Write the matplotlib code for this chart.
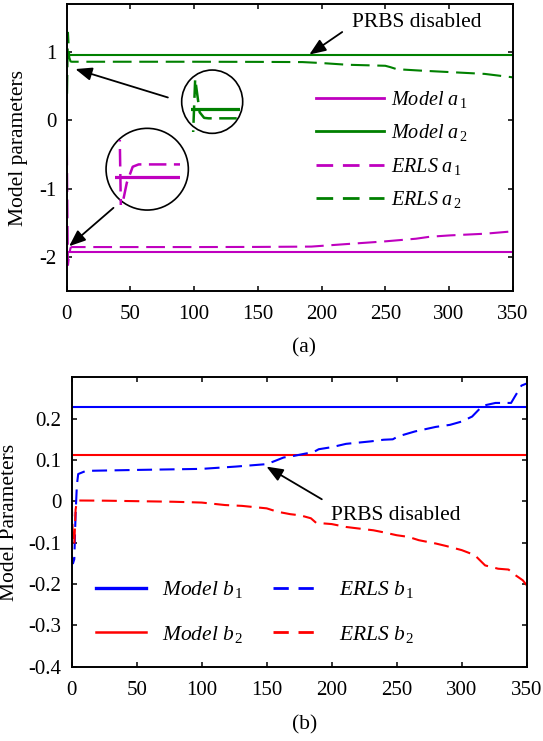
import matplotlib
matplotlib.use('Agg')
import matplotlib.pyplot as plt
from matplotlib.patches import Ellipse
from matplotlib.lines import Line2D

plt.rcParams.update({
    'font.family': ['Liberation Serif', 'DejaVu Serif'],
    'mathtext.fontset': 'custom',
    'mathtext.rm': 'Liberation Serif',
    'mathtext.it': 'Liberation Serif:italic',
    'mathtext.bf': 'Liberation Serif:bold',
    'axes.unicode_minus': False,
})

# ---------------- data (a) ----------------
x_span = [0, 350]
model_a1 = -1.93
model_a2 = 0.955

erls_a1_x = [0, 1, 2, 3, 4, 10, 50, 100, 150, 192, 219, 249, 274, 285, 301, 328, 350]
erls_a1_y = [0, -2.12, -1.96, -1.87, -1.857, -1.857, -1.857, -1.857, -1.855, -1.85,
             -1.814, -1.775, -1.735, -1.706, -1.686, -1.662, -1.627]

erls_a2_x = [0, 1, 2, 3, 4, 10, 50, 100, 150, 185, 200, 220, 250, 254, 259, 277, 298, 328, 350]
erls_a2_y = [0, 1.28, 0.92, 0.86, 0.855, 0.855, 0.855, 0.855, 0.853, 0.85, 0.836,
             0.811, 0.796, 0.776, 0.746, 0.726, 0.706, 0.677, 0.627]

# ---------------- data (b) ----------------
model_b1 = 0.2275
model_b2 = 0.1125

erls_b1_x = [0, 1, 2, 3, 4, 5, 11, 51, 100, 126, 150, 155, 163, 171, 179, 186, 190, 200,
             211, 230, 240, 247, 251, 264, 280, 291, 300, 308, 316, 326, 338, 341, 346, 350]
erls_b1_y = [-0.13, -0.15, -0.14, -0.03, 0.04, 0.066, 0.0737, 0.076, 0.0785, 0.084, 0.090,
             0.096, 0.106, 0.110, 0.115, 0.119, 0.126, 0.131, 0.139, 0.145, 0.149, 0.150,
             0.157, 0.169, 0.180, 0.185, 0.193, 0.205, 0.231, 0.238, 0.238, 0.254, 0.280, 0.285]

erls_b2_x = [0, 1, 2, 3, 4, 5, 25, 78, 100, 118, 131, 150, 158, 168, 176, 184, 188, 200,
             211, 224, 232, 240, 250, 259, 267, 280, 288, 300, 310, 318, 328, 336, 341.5, 347, 350]
erls_b2_y = [0, -0.10, -0.105, -0.02, 0.0, 0.002, 0.0016, -0.001, -0.003, -0.009, -0.011,
             -0.017, -0.025, -0.031, -0.034, -0.041, -0.052, -0.055, -0.062, -0.067, -0.070,
             -0.075, -0.082, -0.086, -0.094, -0.102, -0.108, -0.118, -0.130, -0.155, -0.163,
             -0.165, -0.179, -0.191, -0.203]

x_ticks = [0, 50, 100, 150, 200, 250, 300, 350]
a_yticks = [-2, -1, 0, 1]
b_yticks = [-0.4, -0.3, -0.2, -0.1, 0, 0.1, 0.2]

MAGENTA = '#bf00bf'
GREEN = '#008000'
BLUE = '#0000ff'
RED = '#ff0000'
DASH_A = (0, (9, 3.7))
DASH_B = (0, (7.2, 3.6))

fig = plt.figure(figsize=(5.43, 7.41), dpi=100)
W, H = 543.0, 741.0
ax1 = fig.add_axes([66.7 / W, 1 - 291 / H, 446 / W, 287 / H])
ax2 = fig.add_axes([71.7 / W, 1 - 666.7 / H, 455 / W, 289.4 / H])

for ax in (ax1, ax2):
    ax.tick_params(direction='in', top=True, right=True, length=3.6, width=1.1,
                   labelsize=15)
    ax.tick_params(axis='x', pad=10)
    ax.tick_params(axis='y', pad=7.5)
    for s in ax.spines.values():
        s.set_linewidth(1.4)
    ax.set_xlim(0, 350)
    ax.set_xticks(x_ticks)

# ---------- (a) ----------
ax1.plot(x_span, [model_a1] * 2, color=MAGENTA, lw=1.5)
ax1.plot(x_span, [model_a2] * 2, color=GREEN, lw=1.5)
ax1.plot(erls_a1_x, erls_a1_y, color=MAGENTA, lw=1.5, ls=DASH_A)
ax1.plot(erls_a2_x, erls_a2_y, color=GREEN, lw=1.5, ls=DASH_A)
ax1.set_ylim(-2.5, 1.7)
ax1.set_yticks(a_yticks)
ax1.set_yticklabels([str(v) for v in a_yticks])
ax1.set_ylabel('Model parameters', fontsize=15.5)
ax1.yaxis.set_label_coords(-0.087, 0.5)

arrow_kw = dict(arrowstyle='-|>,head_length=0.5,head_width=0.2', color='k', lw=1.3,
                mutation_scale=20, shrinkA=0, shrinkB=0)
ax1.annotate('', xy=(190.4, 0.96), xytext=(216.2, 1.29), arrowprops=arrow_kw)
ax1.annotate('', xy=(6.8, 0.748), xytext=(79.4, 0.332), arrowprops=arrow_kw)
ax1.annotate('', xy=(1.9, -1.845), xytext=(36.7, -1.283), arrowprops=arrow_kw)
ax1.text(223.5, 1.367, 'PRBS disabled', fontsize=15.5, va='baseline', ha='left')

ax1.add_patch(Ellipse((0.3262, 0.6596), 0.1368, 0.2206, transform=ax1.transAxes,
                      fill=False, lw=1.2, ec='k', zorder=4))
ax1.add_patch(Ellipse((0.1805, 0.4244), 0.1845, 0.2847, transform=ax1.transAxes,
                      fill=False, lw=1.2, ec='k', zorder=4))

ins1 = ax1.inset_axes([0.278, 0.555, 0.1106, 0.180])
ins1.plot(x_span, [model_a2] * 2, color=GREEN, lw=2.3)
ins1.plot(erls_a2_x, erls_a2_y, color=GREEN, lw=1.8, ls=(0, (7, 3)))
ins1.set_xlim(0, 11)
ins1.set_ylim(0.711, 1.267)
ins1.axis('off')

ins2 = ax1.inset_axes([0.1083, 0.2997, 0.1457, 0.2263])
ins2.plot(x_span, [model_a1] * 2, color=MAGENTA, lw=2.3)
ins2.plot(erls_a1_x, erls_a1_y, color=MAGENTA, lw=1.8, ls=(0, (7, 3)))
ins2.set_xlim(0, 11)
ins2.set_ylim(-2.085, -1.72)
ins2.axis('off')

hA = [Line2D([], [], color=MAGENTA, lw=2.0),
      Line2D([], [], color=GREEN, lw=2.0),
      Line2D([], [], color=MAGENTA, lw=2.0, ls=(0, (6, 3.5))),
      Line2D([], [], color=GREEN, lw=2.0, ls=(0, (6, 3.5)))]
lA = [r'$\mathit{Model\ a}_{\,\mathit{1}}$', r'$\mathit{Model\ a}_{\,\mathit{2}}$',
      r'$\mathit{ERLS\ a}_{\,\mathit{1}}$', r'$\mathit{ERLS\ a}_{\,\mathit{2}}$']
ax1.legend(hA, lA, loc='upper left', bbox_to_anchor=(0.559, 0.705), frameon=False,
           fontsize=14.5, handlelength=3.4, handletextpad=0.34, labelspacing=0.62,
           borderpad=0, borderaxespad=0)

# ---------- (b) ----------
ax2.plot(x_span, [model_b1] * 2, color=BLUE, lw=1.5)
ax2.plot(x_span, [model_b2] * 2, color=RED, lw=1.5)
ax2.plot(erls_b1_x, erls_b1_y, color=BLUE, lw=1.5, ls=DASH_B)
ax2.plot(erls_b2_x, erls_b2_y, color=RED, lw=1.5, ls=DASH_B)
ax2.set_ylim(-0.4, 0.3)
ax2.set_yticks(b_yticks)
ax2.set_yticklabels(['-0.4', '-0.3', '-0.2', '-0.1', '0', '0.1', '0.2'])
ax2.set_ylabel('Model Parameters', fontsize=15.5)
ax2.yaxis.set_label_coords(-0.116, 0.5)

ax2.annotate('', xy=(149.8, 0.084), xytext=(192.4, 0.005), arrowprops=arrow_kw)
ax2.text(199.6, -0.045, 'PRBS disabled', fontsize=15.5, va='baseline', ha='left')

hB = [Line2D([], [], color=BLUE, lw=2.4),
      Line2D([], [], color=RED, lw=1.8),
      Line2D([], [], color=BLUE, lw=2.0, ls=(0, (5.5, 3.5))),
      Line2D([], [], color=RED, lw=2.0, ls=(0, (5.5, 3.5)))]
lB = [r'$\mathit{Model\ b}_{\,\mathit{1}}$', r'$\mathit{Model\ b}_{\,\mathit{2}}$',
      r'$\mathit{ERLS\ b}_{\,\mathit{1}}$', r'$\mathit{ERLS\ b}_{\,\mathit{2}}$']
ax2.legend(hB, lB, loc='upper left', bbox_to_anchor=(0.054, 0.302), frameon=False, ncol=2,
           fontsize=15.5, handlelength=2.3, handletextpad=0.74, labelspacing=1.1,
           columnspacing=1.4, borderpad=0, borderaxespad=0)

fig.text(304 / W, 1 - 348.3 / H, '(a)', fontsize=15.5, ha='center', va='center')
fig.text(305 / W, 1 - 725 / H, '(b)', fontsize=15.5, ha='center', va='center')

fig.savefig('out.png', dpi=100)
